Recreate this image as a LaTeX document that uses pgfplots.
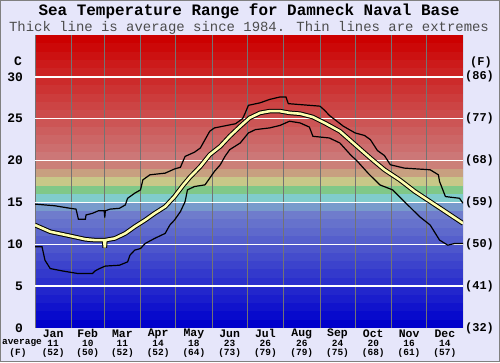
\documentclass[border=0pt]{standalone}
\usepackage{pgfplots}
\pgfplotsset{compat=1.18}
\usepackage{pgfplotstable}
\usepackage{fontspec}
\setmainfont{Liberation Mono}
\definecolor{bgcol}{RGB}{230,230,250}
\definecolor{avgcol}{RGB}{255,255,175}
\definecolor{band0}{RGB}{0,0,204}
\definecolor{band1}{RGB}{8,10,204}
\definecolor{band2}{RGB}{17,19,204}
\definecolor{band3}{RGB}{26,29,204}
\definecolor{band4}{RGB}{34,38,204}
\definecolor{band5}{RGB}{43,48,204}
\definecolor{band6}{RGB}{51,57,204}
\definecolor{band7}{RGB}{60,67,204}
\definecolor{band8}{RGB}{68,76,204}
\definecolor{band9}{RGB}{77,86,204}
\definecolor{band10}{RGB}{85,95,204}
\definecolor{band11}{RGB}{94,105,204}
\definecolor{band12}{RGB}{102,114,204}
\definecolor{band13}{RGB}{111,124,204}
\definecolor{band14}{RGB}{120,155,204}
\definecolor{band15}{RGB}{128,204,204}
\definecolor{band16}{RGB}{128,200,136}
\definecolor{band17}{RGB}{200,200,136}
\definecolor{band18}{RGB}{200,160,128}
\definecolor{band19}{RGB}{204,128,120}
\definecolor{band20}{RGB}{204,119,119}
\definecolor{band21}{RGB}{204,110,110}
\definecolor{band22}{RGB}{204,102,102}
\definecolor{band23}{RGB}{204,94,94}
\definecolor{band24}{RGB}{204,85,85}
\definecolor{band25}{RGB}{204,76,76}
\definecolor{band26}{RGB}{204,68,68}
\definecolor{band27}{RGB}{204,60,60}
\definecolor{band28}{RGB}{204,51,51}
\definecolor{band29}{RGB}{204,43,43}
\definecolor{band30}{RGB}{204,34,34}
\definecolor{band31}{RGB}{204,26,26}
\definecolor{band32}{RGB}{204,17,17}
\definecolor{band33}{RGB}{204,8,8}
\definecolor{band34}{RGB}{204,0,0}

\pgfplotstableread{
d t
0 14.8
17 14.6
30 14.3
35 14.2
37 13.0
43 13.0
43.5 13.5
49 13.7
54 14.0
59 14.0
59.5 13.2
60 14.0
64 14.2
72 14.3
77 14.7
79 15.5
85 16.1
90 16.5
92 17.7
95 18.0
98 18.3
111 18.5
119 19.0
124 19.2
128 20.5
136 21.0
141 21.5
145 22.5
149 23.5
153 23.9
171 24.4
177 25.0
179 25.6
182 26.6
192 26.9
200 27.3
209 27.6
214 27.6
216 26.8
243 26.5
247 26.0
251 25.4
263 24.1
273 23.3
281 23.0
286 22.5
292 21.2
298 20.6
303 19.5
315 19.1
337 18.9
344 18.3
345 17.5
350 15.7
362 15.5
365 14.9
}\uptab

\pgfplotstableread{
d t
0 9.7
6 9.7
8.5 8.1
13 7.1
24 6.8
37 6.5
49 6.5
51 6.8
55 7.1
60 7.4
72 7.5
79 7.9
81 8.7
85 9.3
90 9.5
94 10.1
102 10.7
111 11.3
115 12.3
119 12.9
124 13.9
128 15.1
130 16.5
136 16.9
145 17.1
149 17.9
153 18.7
158 19.5
162 20.5
166 21.3
175 22.1
182 23.3
188 23.7
200 23.9
209 24.2
217 24.7
226 24.5
234 24.0
237 22.9
251 22.7
260 22.1
269 20.7
275 19.9
284 18.5
294 17.1
305 16.5
315 15.1
328 13.3
337 12.3
345 10.5
352 9.9
358 10.1
365 10.1
}\lowtab

\pgfplotstableread{
d t
0 12.3
13 11.5
30 11.0
43 10.6
51 10.5
59 10.5
59.5 9.6
60 10.5
68 10.7
77 11.3
85 12.1
94 12.9
102 13.7
111 14.5
119 15.7
126 17.0
132 18.0
141 19.3
149 20.7
158 21.7
166 22.9
175 24.1
183 25.1
192 25.7
200 25.9
209 25.9
217 25.7
226 25.6
237 25.2
247 24.5
260 23.5
273 21.9
286 20.3
298 18.9
311 17.7
324 16.3
337 15.1
350 13.9
365 12.5
}\avgtab

\begin{document}
\begin{tikzpicture}[x=1bp,y=1bp]
\fill[bgcol] (0,0) rectangle (500,362);
\draw[gray, line width=0.8bp] (0.4,0.4) rectangle (499.6,361.6);
\begin{axis}[at={(35bp,34bp)}, anchor=south west,
  width=428bp, height=293bp, scale only axis,
  xmin=0, xmax=365, ymin=0, ymax=35,
  axis lines=none, ticks=none, clip=true]
\pgfplotsinvokeforeach{0,...,34}{
  \fill[band#1] (axis cs:0,#1) rectangle (axis cs:365,#1+1);
}
\pgfplotsinvokeforeach{0,31,59,90,120,151,181,212,243,273,304,334,365}{
  \draw[black!55, line width=0.8bp] (axis cs:#1,0) -- (axis cs:#1,35);
}
\pgfplotsinvokeforeach{5,10,15,20,25,30}{
  \draw[white, line width=1.3bp] (axis cs:0,#1) -- (axis cs:365,#1);
}
\addplot[black, line width=1.2bp] table[x=d,y=t] {\uptab};
\addplot[black, line width=1.2bp] table[x=d,y=t] {\lowtab};
\addplot[black, line width=4.6bp] table[x=d,y=t] {\avgtab};
\addplot[avgcol, line width=2.6bp] table[x=d,y=t] {\avgtab};
\end{axis}
% title
\node[font=\fontsize{16}{18}\selectfont\bfseries, inner sep=0pt] at (249,350.8) {Sea Temperature Range for Damneck Naval Base};
\node[font=\fontsize{14}{16}\selectfont, text=black!70, inner sep=0pt] at (249,334.3) {Thick line is average since 1984. Thin lines are extremes};
% left labels
\node[font=\fontsize{13}{15}\selectfont\bfseries, inner sep=0pt] at (18,301) {C};
\foreach \v in {0,5,10,15,20,25,30}{
  \node[font=\fontsize{13}{15}\selectfont\bfseries, anchor=east, inner sep=0pt] at (23,34+\v*8.371) {\v};
}
% right labels
\node[font=\fontsize{12}{14}\selectfont\bfseries, inner sep=0pt] at (481,300) {(F)};
\foreach \v/\f in {0/32,5/41,10/50,15/59,20/68,25/77,30/86}{
  \node[font=\fontsize{12}{14}\selectfont\bfseries, anchor=west, inner sep=0pt] at (465,34+\v*8.371) {(\f)};
}
% bottom labels
\node[font=\fontsize{9.5}{11}\selectfont\bfseries, inner sep=0pt] at (22,19) {average};
\node[font=\fontsize{9.5}{11}\selectfont\bfseries, inner sep=0pt] at (18,9) {(F)};
\foreach \m/\mid/\c/\f in {Jan/15.5/11/52,Feb/45/10/50,Mar/74.5/11/52,Apr/105/14/52,May/135.5/18/64,Jun/166/23/73,Jul/196.5/26/79,Aug/227.5/26/79,Sep/258/24/75,Oct/288.5/20/68,Nov/319/16/61,Dec/349.5/14/57}{
  \node[font=\fontsize{11.5}{13}\selectfont\bfseries, inner sep=0pt] at (35+\mid*1.1726,28.5) {\m};
  \node[font=\fontsize{9.5}{11}\selectfont\bfseries, inner sep=0pt] at (35+\mid*1.1726,19) {\c};
  \node[font=\fontsize{9.5}{11}\selectfont\bfseries, inner sep=0pt] at (35+\mid*1.1726,9) {(\f)};
}
\end{tikzpicture}
\end{document}
